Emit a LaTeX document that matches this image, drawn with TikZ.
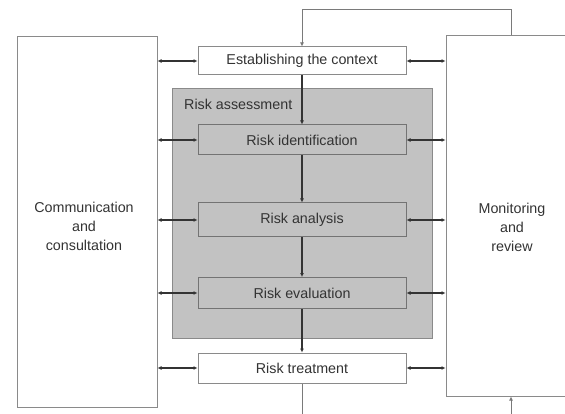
\documentclass[tikz,border=0pt]{standalone}
\usepackage{fontspec}
\setmainfont{Liberation Sans}
\usetikzlibrary{arrows.meta}
\definecolor{linec}{HTML}{333333}
\definecolor{loopc}{HTML}{7A7A7A}
\definecolor{boxb}{HTML}{8A8A8A}
\definecolor{grayfill}{HTML}{C2C2C2}
\definecolor{txt}{HTML}{333333}
\tikzset{
  side/.style={draw=boxb, line width=1pt, fill=white, inner sep=0pt},
  stepbox/.style={draw=boxb, line width=1pt, fill=white, minimum width=208pt, inner sep=0pt, text=txt, font=\fontsize{14.3}{17}\selectfont},
  graystep/.style={stepbox, fill=grayfill, draw=gray!90!black},
  conn/.style={draw=linec, line width=1.3pt},
  loopline/.style={draw=loopc, line width=1pt},
  darr/.style={conn, {Latex[length=4pt,width=4pt]}-{Latex[length=4pt,width=4pt]}},
  sarr/.style={conn, -{Latex[length=4pt,width=4pt]}},
  looparr/.style={loopline, -{Latex[length=4pt,width=4pt,fill=linec]}},
  lbl/.style={text=txt, font=\fontsize{14.3}{19}\selectfont, align=center, inner sep=0pt}
}
\begin{document}
\begin{tikzpicture}[x=1pt,y=-1pt]
\useasboundingbox[fill=white] (0,0) rectangle (565,414);
% side boxes
\node[side, minimum width=140pt, minimum height=370pt] (L) at (87,222) {};
\node[lbl] (ltext) at (84,226) {Communication\\and\\consultation};
\node[side, minimum width=130pt, minimum height=360pt] (R) at (511,216) {};
\node[lbl] (rtext) at (512,227) {Monitoring\\and\\review};
% risk assessment
\node[draw=boxb, line width=1pt, fill=grayfill, minimum width=260pt, minimum height=249pt, inner sep=0pt] (G) at (302,213.5) {};
\node[lbl, anchor=west] (gtext) at (184,104) {Risk assessment};
% steps
\node[stepbox, minimum height=28pt] (EC) at (302,61) {Establishing the context};
\node[graystep, minimum height=30pt] (RI) at (302,140) {Risk identification};
\node[graystep, minimum height=34pt] (RA) at (302,220) {Risk analysis};
\node[graystep, minimum height=31pt] (RE) at (302,293) {Risk evaluation};
\node[stepbox, minimum height=30pt] (RT) at (302,368) {Risk treatment};
% vertical flow
\draw[sarr] (EC.south) -- (RI.north);
\draw[sarr] (RI.south) -- (RA.north);
\draw[sarr] (RA.south) -- (RE.north);
\draw[sarr] (RE.south) -- (RT.north);
% horizontal links
\foreach \n in {EC,RI,RA,RE,RT}{
  \draw[darr] (L.east |- \n.west) -- (\n.west);
  \draw[darr] (\n.east) -- (R.west |- \n.east);
}
% feedback loop
\coordinate (top) at (302,10);
\draw[looparr] (R.north) |- (top) -- (EC.north);
\coordinate (b1) at (302,414);
\coordinate (b2) at (511,414);
\draw[loopline] (RT.south) -- (b1);
\draw[looparr] (b2) -- (R.south);
\end{tikzpicture}
\end{document}
